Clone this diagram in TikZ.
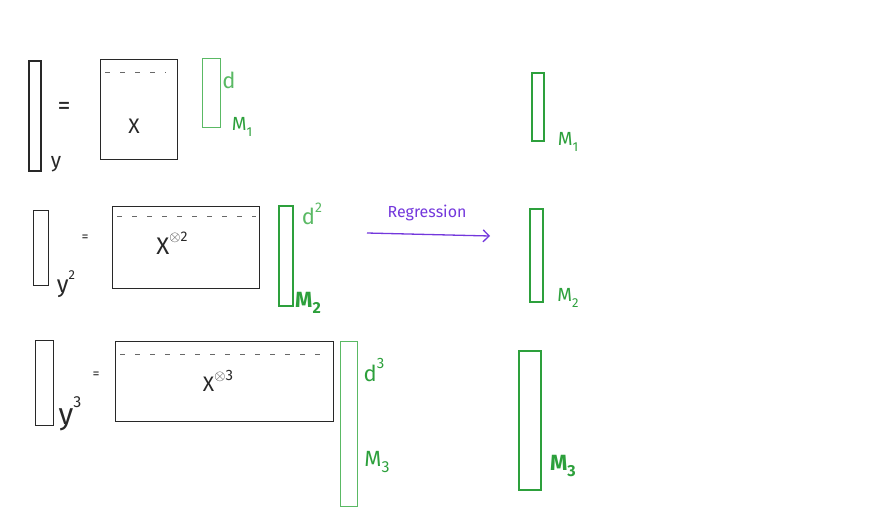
\documentclass[tikz,border=0pt]{standalone}
\usepackage{fontspec}
\setmainfont{Fira Sans}
\usepackage{amssymb}
\usetikzlibrary{arrows.meta}
\definecolor{gl}{RGB}{90,185,100}
\definecolor{gd}{RGB}{45,160,60}
\definecolor{pu}{RGB}{115,55,220}
\definecolor{ink}{RGB}{40,40,40}
\newcommand{\fs}[1]{\fontsize{#1}{#1}\selectfont}
\newcommand{\upx}[2]{\raisebox{0.55em}{\fs{#1}#2}}
\newcommand{\dnx}[2]{\raisebox{-0.3em}{\fs{#1}#2}}
\begin{document}
\begin{tikzpicture}[x=1pt,y=-1pt,
  box/.style={draw=ink,line width=1.2pt,inner sep=0pt,anchor=north west},
  gbox/.style={draw=gl,line width=1.3pt,inner sep=0pt,anchor=north west},
  gboxd/.style={draw=gd,line width=2.4pt,inner sep=0pt,anchor=north west},
  lbl/.style={inner sep=0pt,font=\fs{21},text=ink},
  glbl/.style={inner sep=0pt,font=\fs{19},text=gd},
  dashln/.style={draw=ink!70,line width=0.9pt,dash pattern=on 5pt off 10pt}]
\useasboundingbox (0,0) rectangle (896,512);
% Row 1
\node[box,line width=2pt,minimum width=12pt,minimum height=110pt] (y1) at (28,60) {};
\node[lbl] (y1l) at (56,164) {y};
\node[lbl,font=\fs{26}] (eq1) at (64,108) {=};
\node[box,minimum width=77pt,minimum height=100pt] (X1) at (100,59) {};
\draw[dashln] (105,72) -- (166,72);
\node[lbl] (X1l) at (134,126) {X};
\node[gbox,minimum width=18pt,minimum height=69pt] (m1a) at (202,58) {};
\node[glbl,text=gl,font=\fs{22}] (d1) at (229,80) {d};
\node[glbl] (M1a) at (242,127) {M\dnx{13}{1}};
\node[gbox,draw=gd,line width=1.6pt,minimum width=12pt,minimum height=68pt] (m1b) at (531,72) {};
\node[glbl] (M1b) at (568,142) {M\dnx{13}{1}};
% Row 2
\node[box,minimum width=15pt,minimum height=75pt] (y2) at (33,210) {};
\node[lbl,font=\fs{24}] (y2l) at (66,284) {y\upx{13}{2}};
\node[lbl,font=\fs{14}] (eq2) at (85,238) {=};
\node[box,minimum width=147pt,minimum height=82pt] (X2) at (112,206) {};
\draw[dashln] (117,216) -- (256,216);
\node[lbl,font=\fs{24}] (X2l) at (172,243) {X\upx{14}{$\otimes$2}};
\node[gboxd,minimum width=14pt,minimum height=100pt] (m2a) at (278,205) {};
\node[glbl,text=gl,font=\fs{22}] (d2) at (312,214) {d\upx{14}{2}};
\node[glbl,font=\fs{22}\bfseries] (M2a) at (308,303) {M\dnx{16}{2}};
\coordinate (ra) at (367,233);
\coordinate (rb) at (490,236);
\draw[pu,line width=1.3pt,-{Straight Barb[length=6pt]}] (ra) -- (rb);
\node[inner sep=0pt,text=pu,font=\fs{16}] (reg) at (427,213) {Regression};
\node[gbox,draw=gd,line width=1.5pt,minimum width=13pt,minimum height=93pt] (m2b) at (529,208) {};
\node[glbl] (M2b) at (568,298) {M\dnx{13}{2}};
% Row 3
\node[box,minimum width=18pt,minimum height=85pt] (y3) at (35,340) {};
\node[lbl,font=\fs{30}] (y3l) at (70,414) {y\upx{16}{3}};
\node[lbl,font=\fs{14}] (eq3) at (96,375) {=};
\node[box,minimum width=218pt,minimum height=80pt] (X3) at (115,341) {};
\draw[dashln] (120,354) -- (328,354);
\node[lbl] (X3l) at (218,381) {X\upx{15}{$\otimes$3}};
\node[gbox,minimum width=17pt,minimum height=165pt] (m3a) at (340,341) {};
\node[glbl,font=\fs{22}] (d3) at (374,370) {d\upx{15}{3}};
\node[glbl,font=\fs{22}] (M3a) at (377,462) {M\dnx{16}{3}};
\node[gbox,draw=gd,line width=2pt,minimum width=22pt,minimum height=139pt] (m3b) at (518,350) {};
\node[glbl,font=\fs{22}\bfseries] (M3b) at (563,466) {M\dnx{16}{3}};
\end{tikzpicture}
\end{document}
